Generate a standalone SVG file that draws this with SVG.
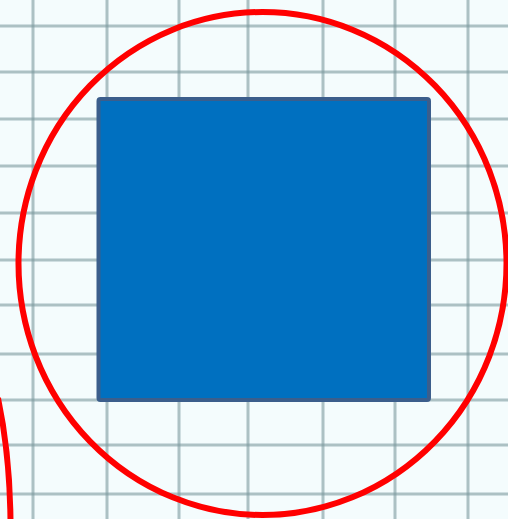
<svg xmlns="http://www.w3.org/2000/svg" width="508" height="519" viewBox="0 0 508 519">
  <style>
    .grid line { stroke: #7d9a9f; stroke-width: 3; opacity: 0.6; }
    .ring { fill: none; stroke: #ff0000; stroke-width: 6; }
  </style>
  <rect x="0" y="0" width="508" height="519" fill="#f4fcfd"/>
  <g class="grid" id="grid">
    <line x1="33" y1="0" x2="33" y2="519"/>
    <line x1="107" y1="0" x2="107" y2="519"/>
    <line x1="179" y1="0" x2="179" y2="519"/>
    <line x1="248" y1="0" x2="248" y2="519"/>
    <line x1="323" y1="0" x2="323" y2="519"/>
    <line x1="395" y1="0" x2="395" y2="519"/>
    <line x1="468" y1="0" x2="468" y2="519"/>
    <line x1="0" y1="26" x2="508" y2="26"/>
    <line x1="0" y1="72" x2="508" y2="72"/>
    <line x1="0" y1="119" x2="508" y2="119"/>
    <line x1="0" y1="166" x2="508" y2="166"/>
    <line x1="0" y1="213" x2="508" y2="213"/>
    <line x1="0" y1="260" x2="508" y2="260"/>
    <line x1="0" y1="305" x2="508" y2="305"/>
    <line x1="0" y1="354" x2="508" y2="354"/>
    <line x1="0" y1="400" x2="508" y2="400"/>
    <line x1="0" y1="445" x2="508" y2="445"/>
    <line x1="0" y1="494" x2="508" y2="494"/>
  </g>
  <g id="big-circle">
    <ellipse class="ring" cx="262.5" cy="263.5" rx="244" ry="251.5"/>
  </g>
  <g id="small-arc">
    <path class="ring" d="M -2,398 Q 10,455 10.5,522"/>
  </g>
  <g id="square">
    <rect x="98.5" y="99" width="330.5" height="301" rx="2" fill="#0070c0" stroke="#3b5e8c" stroke-width="4"/>
  </g>
</svg>
